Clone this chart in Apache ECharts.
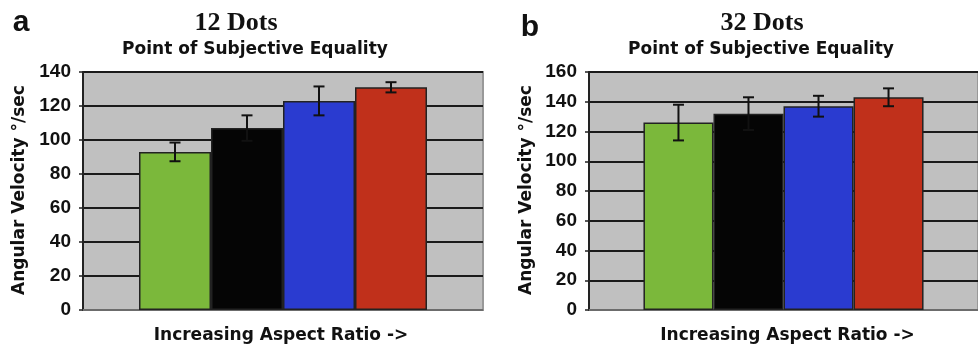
<!DOCTYPE html>
<html>
<head>
<meta charset="utf-8">
<script src="https://cdn.jsdelivr.net/npm/echarts@6/dist/echarts.min.js"></script>
<style>
html,body{margin:0;padding:0;background:#fff;}
#c{width:978px;height:346px;}
</style>
</head>
<body>
<div id="c"></div>
<script>
// ---- data ----
const category = [''];
const seriesNames = ['Aspect 1', 'Aspect 2', 'Aspect 3', 'Aspect 4'];
const colors = ['#7bb83b', '#050505', '#2a3bd0', '#c0301b'];
const leftValues = [93, 107, 123, 131];
const leftErrors = [5.5, 7.5, 8.5, 3];
const rightValues = [126, 132, 137, 143];
const rightErrors = [12, 11, 7, 6];
const leftTicks = { min: 0, max: 140, interval: 20 };
const rightTicks = { min: 0, max: 160, interval: 20 };
const panelTitles = ['12 Dots', '32 Dots'];
const subTitle = 'Point of Subjective Equality';
const yTitle = 'Angular Velocity \u00b0/sec';
const xTitle = 'Increasing Aspect Ratio ->';
const panelLetters = ['a', 'b'];

const GAP = 0.28;
const sans = '"Liberation Sans", Arial, sans-serif';
const wide = '"DejaVu Sans", Verdana, sans-serif';
const serif = '"Liberation Serif", "Times New Roman", serif';

const chart = echarts.init(document.getElementById('c'), null, { renderer: 'canvas' });

function xAxisCfg(gi) {
  return {
    type: 'category', gridIndex: gi, data: category,
    axisTick: { show: false }, axisLabel: { show: false },
    axisLine: { lineStyle: { color: '#888', width: 1.5 } }
  };
}
function yAxisCfg(gi, t) {
  return {
    type: 'value', gridIndex: gi, min: t.min, max: t.max, interval: t.interval,
    axisLine: { show: true, lineStyle: { color: '#222', width: 2 } },
    axisTick: { show: true, length: 4, lineStyle: { color: '#222', width: 1.5 } },
    axisLabel: { margin: 12, fontFamily: sans, fontWeight: 'bold', fontSize: 19, color: '#111' },
    splitLine: { show: true, lineStyle: { color: '#1a1a1a', width: 2 } }
  };
}
function barSeries(gi, values) {
  return values.map((v, i) => ({
    type: 'bar', name: seriesNames[i], xAxisIndex: gi, yAxisIndex: gi,
    data: [v], barGap: '0%', barCategoryGap: (GAP * 100) + '%',
    itemStyle: { color: colors[i], borderColor: '#222', borderWidth: 1.5 },
    z: 2
  }));
}
function errSeries(gi, values, errs) {
  return {
    type: 'custom', xAxisIndex: gi, yAxisIndex: gi, z: 5,
    data: values.map((v, i) => [0, v - errs[i], v + errs[i], i]),
    renderItem: function (params, api) {
      const cat = api.value(0), lo = api.value(1), hi = api.value(2), idx = api.value(3);
      const band = api.size([1, 0])[0];
      const barW = band * (1 - GAP) / 4;
      const cx = api.coord([cat, 0])[0] + (idx - 1.5) * barW;
      const yTop = api.coord([cat, hi])[1];
      const yBot = api.coord([cat, lo])[1];
      const cap = 5.5;
      const st = { stroke: '#111', lineWidth: 2 };
      return {
        type: 'group', children: [
          { type: 'line', shape: { x1: cx, y1: yTop, x2: cx, y2: yBot }, style: st },
          { type: 'line', shape: { x1: cx - cap, y1: yTop, x2: cx + cap, y2: yTop }, style: st },
          { type: 'line', shape: { x1: cx - cap, y1: yBot, x2: cx + cap, y2: yBot }, style: st }
        ]
      };
    }
  };
}
function txt(x, y, text, size, font, rot) {
  return {
    type: 'text', x: x, y: y, rotation: rot || 0,
    style: { text: text, fontSize: size, fontFamily: font, fontWeight: 'bold', fill: '#111', align: 'center', verticalAlign: 'middle' }
  };
}

const option = {
  animation: false,
  backgroundColor: '#fff',
  grid: [
    { left: 83, top: 72, width: 400, height: 238, show: true, backgroundColor: '#c0c0c0', borderColor: '#999', borderWidth: 2 },
    { left: 589, top: 72, width: 400, height: 238, show: true, backgroundColor: '#c0c0c0', borderColor: '#999', borderWidth: 2 }
  ],
  xAxis: [xAxisCfg(0), xAxisCfg(1)],
  yAxis: [yAxisCfg(0, leftTicks), yAxisCfg(1, rightTicks)],
  series: [].concat(
    barSeries(0, leftValues), [errSeries(0, leftValues, leftErrors)],
    barSeries(1, rightValues), [errSeries(1, rightValues, rightErrors)]
  ),
  graphic: [
    txt(21, 23, panelLetters[0], 30, sans),
    txt(530, 28, panelLetters[1], 30, sans),
    txt(236, 23, panelTitles[0], 26, serif),
    txt(762, 23, panelTitles[1], 26, serif),
    txt(255, 49.5, subTitle, 17, wide),
    txt(761, 49.5, subTitle, 17, wide),
    txt(20, 190, yTitle, 17, wide, Math.PI / 2),
    txt(526.5, 190, yTitle, 17, wide, Math.PI / 2),
    txt(281, 336, xTitle, 17, wide),
    txt(787.5, 336, xTitle, 17, wide)
  ]
};
chart.setOption(option);
</script>
</body>
</html>
